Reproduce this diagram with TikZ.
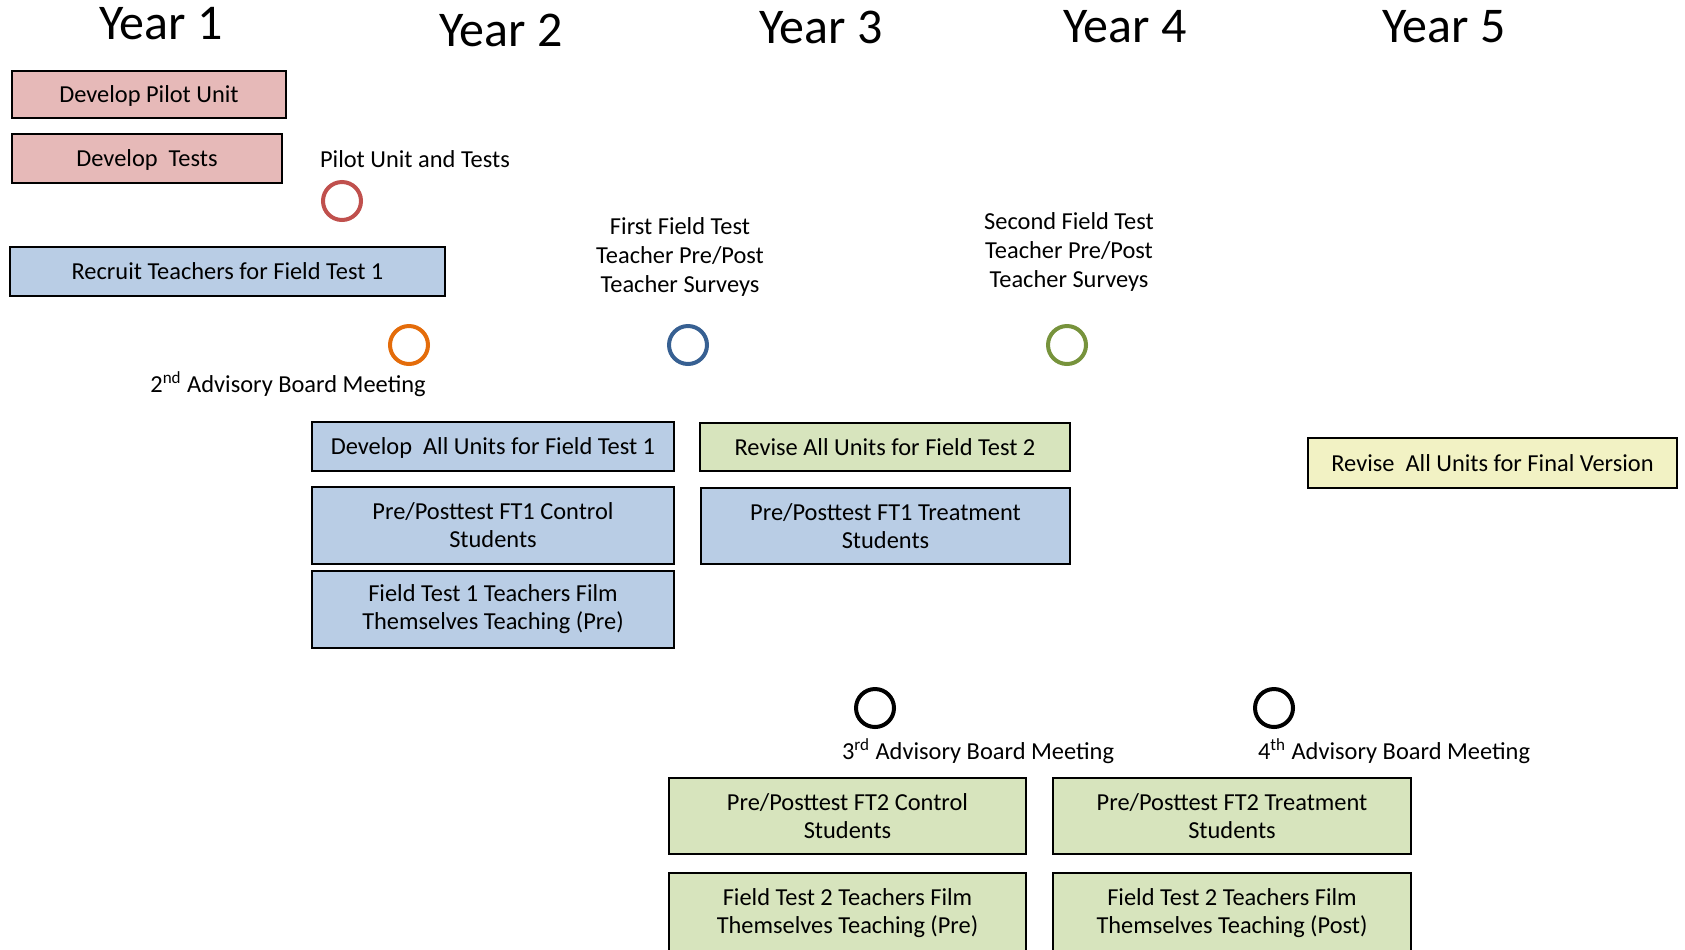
\documentclass[tikz,border=0pt]{standalone}
\usepackage{fontspec}
\setmainfont{Carlito}
\definecolor{pinkbox}{HTML}{E6B9B8}
\definecolor{bluebox}{HTML}{B9CDE5}
\definecolor{greenbox}{HTML}{D7E4BD}
\definecolor{yellowbox}{HTML}{F2F2C4}
\definecolor{redring}{HTML}{C0504D}
\definecolor{orangering}{HTML}{E46C0A}
\definecolor{bluering}{HTML}{376092}
\definecolor{greenring}{HTML}{77933C}
\begin{document}
\begin{tikzpicture}[x=0.5pt, y=-0.5pt,
        task/.style={draw, line width=1.2pt, align=center, inner sep=0pt,
            font=\fontsize{12.2}{14}\selectfont},
        oneline/.style={text depth=0pt},
        boxsize/.style 2 args={minimum width=#1*0.5pt, minimum height=#2*0.5pt},
        year/.style={font=\fontsize{25}{30}\selectfont},
        note/.style={align=center, font=\fontsize{12.2}{14.5}\selectfont},
        ring/.style={circle, draw, line width=2pt, minimum size=19pt, inner sep=0pt}]
    \useasboundingbox (0, 0) rectangle (1685, 949);
    % years
    \node [year] (y1) at (161, 24) {Year 1};
    \node [year] (y2) at (501, 30) {Year 2};
    \node [year] (y3) at (821, 27) {Year 3};
    \node [year] (y4) at (1125, 27) {Year 4};
    \node [year] (y5) at (1444, 27) {Year 5};
    % year 1
    \node [task, oneline, fill=pinkbox, boxsize={274}{47}] (pilot) at (149, 94.5) {Develop Pilot Unit};
    \node [task, oneline, fill=pinkbox, boxsize={270}{49}] (tests) at (147, 158.5) {Develop\ \ Tests};
    \node [task, oneline, fill=bluebox, boxsize={435}{49}] (recruit) at (227.5, 271.5) {Recruit Teachers for Field Test 1};
    % year 2
    \node [task, oneline, fill=bluebox, boxsize={362}{49}] (devall) at (493, 446.5) {Develop\ \ All Units for Field Test 1};
    \node [task, fill=bluebox, boxsize={362}{77}] (ctrlone) at (493, 525.5) {Pre/Posttest FT1 Control\\Students};
    \node [task, fill=bluebox, boxsize={362}{77}] (filmone) at (493, 609.5) {Field Test 1 Teachers Film\\Themselves Teaching (Pre)};
    % year 3
    \node [task, oneline, fill=greenbox, boxsize={370}{48}] (revise) at (885, 447) {Revise All Units for Field Test 2};
    \node [task, fill=bluebox, boxsize={369}{76}] (treatone) at (885.5, 526) {Pre/Posttest FT1 Treatment\\Students};
    \node [task, fill=greenbox, boxsize={357}{76}] (ctrltwo) at (847.5, 816) {Pre/Posttest FT2 Control\\Students};
    \node [task, fill=greenbox, boxsize={357}{80}] (filmtwopre) at (847.5, 913) {Field Test 2 Teachers Film\\Themselves Teaching (Pre)};
    % year 4
    \node [task, fill=greenbox, boxsize={358}{76}] (treattwo) at (1232, 816) {Pre/Posttest FT2 Treatment\\Students};
    \node [task, fill=greenbox, boxsize={358}{80}] (filmtwopost) at (1232, 913) {Field Test 2 Teachers Film\\Themselves Teaching (Post)};
    % year 5
    \node [task, oneline, fill=yellowbox, boxsize={369}{50}] (final) at (1492.5, 463) {Revise\ \ All Units for Final Version};
    % milestones
    \node [ring, draw=redring] (pilotring) at (342, 201) {};
    \node [note] (pilotnote) at (415, 159) {Pilot Unit and Tests};
    \node [ring, draw=orangering] (boardtwo) at (409, 345) {};
    \node [note] (boardtwonote) at (288, 384) {2\textsuperscript{nd} Advisory Board Meeting};
    \node [ring, draw=bluering] (ftone) at (688, 345) {};
    \node [note] (ftonenote) at (680, 257) {First Field Test\\Teacher Pre/Post\\Teacher Surveys};
    \node [ring, draw=greenring] (fttwo) at (1067, 345) {};
    \node [note] (fttwonote) at (1069, 252) {Second Field Test\\Teacher Pre/Post\\Teacher Surveys};
    \node [ring, draw=black] (boardthree) at (875, 708) {};
    \node [note] (boardthreenote) at (978, 751) {3\textsuperscript{rd} Advisory Board Meeting};
    \node [ring, draw=black] (boardfour) at (1274, 708) {};
    \node [note] (boardfournote) at (1394, 751) {4\textsuperscript{th} Advisory Board Meeting};
\end{tikzpicture}
\end{document}
